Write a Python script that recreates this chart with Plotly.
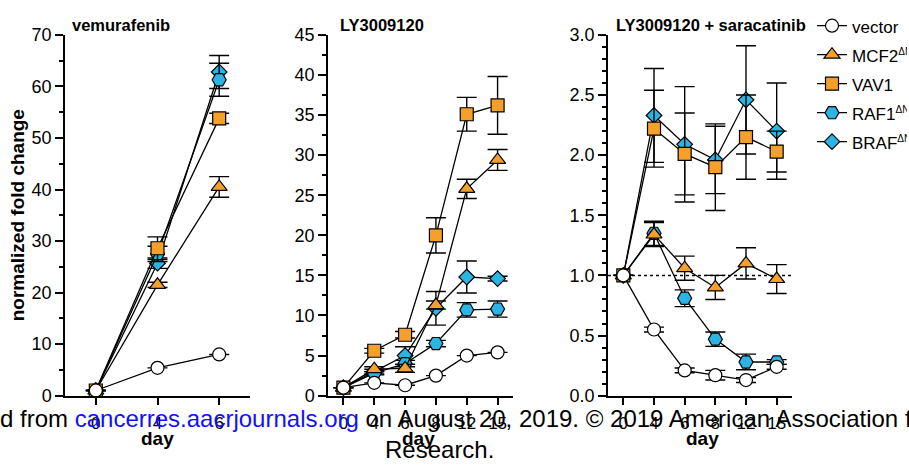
import plotly.graph_objects as go

# ---------------- data ----------------
days_a = ['0', '4', '6']
days_b = ['0', '4', '6', '8', '12', '15']

series_names = ['vector', 'MCF2<sup>ΔN</sup>', 'VAV1', 'RAF1<sup>ΔN</sup>', 'BRAF<sup>ΔN</sup>']

# panel 1: vemurafenib
vem_vector = [1.0, 5.4, 8.0]
vem_vector_err = [0, 0, 0]
vem_mcf2 = [1.0, 21.5, 40.5]
vem_mcf2_err = [0, 0.5, 2.0]
vem_vav1 = [1.0, 28.6, 53.8]
vem_vav1_err = [0, 2.2, 1.0]
vem_raf1 = [1.0, 27.5, 61.3]
vem_raf1_err = [0, 1.5, 3.2]
vem_braf = [1.0, 25.7, 62.8]
vem_braf_err = [0, 1.0, 3.2]

# panel 2: LY3009120
ly_vector = [1.0, 1.6, 1.3, 2.5, 5.0, 5.4]
ly_vector_err = [0, 0, 0, 0, 0, 0]
ly_mcf2 = [1.0, 3.3, 3.4, 11.3, 25.8, 29.4]
ly_mcf2_err = [0, 0.3, 0.5, 0.5, 1.2, 1.3]
ly_vav1 = [1.0, 5.6, 7.6, 20.0, 35.1, 36.2]
ly_vav1_err = [0, 0.3, 0.4, 2.2, 2.1, 3.6]
ly_raf1 = [1.0, 2.8, 4.0, 6.5, 10.7, 10.8]
ly_raf1_err = [0, 0.2, 0.4, 0.4, 0.9, 1.0]
ly_braf = [1.0, 3.0, 5.0, 10.9, 14.8, 14.6]
ly_braf_err = [0, 0.3, 1.1, 2.1, 2.0, 0.3]

# panel 3: LY3009120 + saracatinib
lys_vector = [1.0, 0.55, 0.21, 0.17, 0.13, 0.24]
lys_vector_err = [0, 0.02, 0.02, 0.04, 0.02, 0.02]
lys_mcf2 = [1.0, 1.34, 1.06, 0.90, 1.10, 0.97]
lys_mcf2_err = [0, 0.10, 0.10, 0.10, 0.13, 0.12]
lys_vav1 = [1.0, 2.22, 2.01, 1.90, 2.15, 2.03]
lys_vav1_err = [0, 0.32, 0.34, 0.36, 0.35, 0.17]
lys_raf1 = [1.0, 1.35, 0.81, 0.47, 0.28, 0.28]
lys_raf1_err = [0, 0.10, 0.07, 0.06, 0.065, 0.02]
lys_braf = [1.0, 2.33, 2.09, 1.96, 2.46, 2.20]
lys_braf_err = [0, 0.39, 0.48, 0.28, 0.45, 0.40]

panel_titles = ['vemurafenib', 'LY3009120', 'LY3009120 + saracatinib']
y_title = 'normalized fold change'
x_title = 'day'

# ---------------- styles ----------------
ORANGE = '#F5A02A'
CYAN = '#2BB5E5'
styles = {
    'vector': dict(symbol='circle', color='white', size=13),
    'mcf2': dict(symbol='triangle-up', color=ORANGE, size=14),
    'vav1': dict(symbol='square', color=ORANGE, size=13),
    'raf1': dict(symbol='hexagon2', color=CYAN, size=14),
    'braf': dict(symbol='diamond', color=CYAN, size=12),
}

panels = [
    (days_a, {'vector': (vem_vector, vem_vector_err), 'mcf2': (vem_mcf2, vem_mcf2_err),
              'vav1': (vem_vav1, vem_vav1_err), 'raf1': (vem_raf1, vem_raf1_err),
              'braf': (vem_braf, vem_braf_err)}),
    (days_b, {'vector': (ly_vector, ly_vector_err), 'mcf2': (ly_mcf2, ly_mcf2_err),
              'vav1': (ly_vav1, ly_vav1_err), 'raf1': (ly_raf1, ly_raf1_err),
              'braf': (ly_braf, ly_braf_err)}),
    (days_b, {'vector': (lys_vector, lys_vector_err), 'mcf2': (lys_mcf2, lys_mcf2_err),
              'vav1': (lys_vav1, lys_vav1_err), 'raf1': (lys_raf1, lys_raf1_err),
              'braf': (lys_braf, lys_braf_err)}),
]

keys = ['vector', 'mcf2', 'vav1', 'raf1', 'braf']
draw_order = ['braf', 'raf1', 'vav1', 'mcf2', 'vector']

W, H = 909, 465
fig = go.Figure()


def legend_label(name):
    # small superscripts like the reference, 17px main text
    name = name.replace('<sup>', '<sup><span style="font-size:10px">').replace('</sup>', '</span></sup>')
    return f'<span style="font-size:17px">{name}</span>'


for p, (days, data) in enumerate(panels):
    xa = 'x' if p == 0 else f'x{p+1}'
    ya = 'y' if p == 0 else f'y{p+1}'
    for k in draw_order:
        vals, errs = data[k]
        st = styles[k]
        fig.add_trace(go.Scatter(
            x=days, y=vals, xaxis=xa, yaxis=ya,
            mode='lines+markers',
            name=legend_label(series_names[keys.index(k)]),
            legendgroup='all', legendrank=keys.index(k),
            showlegend=(p == 2),
            line=dict(color='black', width=1.3),
            marker=dict(symbol=st['symbol'], color=st['color'], size=st['size'],
                        line=dict(color='black', width=1.2)),
            error_y=dict(type='data', array=errs, visible=True, color='black',
                         thickness=1.4, width=10),
            cliponaxis=False,
        ))

xdomains = [[65 / W, 250 / W], [328 / W, 513 / W], [608 / W, 792 / W]]
ydomain = [62 / H, 439 / H]
yranges = [[0, 70], [0, 45], [0, 3.0]]
ydticks = [10, 5, 0.5]
yminor = [5, 2.5, 0.1]
xranges = [[-0.5, 2.5], [-0.5, 5.5], [-0.5, 5.5]]
ytickformat = ['', '', '.1f']

font_main = 'Liberation Sans, Arial, sans-serif'
layout = dict(
    width=W, height=H, margin=dict(l=0, r=0, t=0, b=0),
    paper_bgcolor='white', plot_bgcolor='white',
    font=dict(family=font_main, color='black', size=18),
    showlegend=True,
    legend=dict(x=812 / W, y=1 + 4 / H, xanchor='left', yanchor='top',
                orientation='h', entrywidth=50, entrywidthmode='pixels',
                font=dict(size=20, family=font_main),
                bgcolor='rgba(0,0,0,0)', traceorder='grouped'),
)
for i in range(3):
    sx = '' if i == 0 else str(i + 1)
    layout[f'xaxis{sx}'] = dict(
        domain=xdomains[i], anchor=f'y{sx}', type='category', range=xranges[i],
        showline=True, linecolor='black', linewidth=1.5, mirror=False,
        ticks='outside', ticklen=8, tickwidth=1.5, tickcolor='black',
        tickfont=dict(size=17), ticklabelstandoff=3,
        showgrid=False, zeroline=False,
    )
    layout[f'yaxis{sx}'] = dict(
        domain=ydomain, anchor=f'x{sx}', range=yranges[i], dtick=ydticks[i], tick0=0,
        tickformat=ytickformat[i],
        showline=True, linecolor='black', linewidth=1.5,
        ticks='outside', ticklen=8, tickwidth=1.5, tickcolor='black',
        minor=dict(dtick=yminor[i], tick0=0, ticks='outside', ticklen=4,
                   tickwidth=1.5, tickcolor='black', showgrid=False),
        tickfont=dict(size=18), showgrid=False, zeroline=False,
    )
fig.update_layout(**layout)

# reference dotted line at 1.0 in panel 3
fig.add_shape(type='line', xref='x3 domain', yref='y3', x0=0, x1=1, y0=1.0, y1=1.0,
              line=dict(color='black', width=1.5, dash='dot'), layer='below')

ann = []
title_x = [121, 382, 711]
for i, t in enumerate(panel_titles):
    ann.append(dict(text=f'<b>{t}</b>', x=title_x[i] / W, y=1 - 16 / H, xref='paper',
                    yref='paper', showarrow=False, xanchor='center', yanchor='middle',
                    font=dict(size=16.5)))
day_x = [157, 418, 702]
for i in range(3):
    ann.append(dict(text=f'<b>{x_title}</b>', x=day_x[i] / W, y=1 - 448 / H,
                    xref='paper', yref='paper', showarrow=False, xanchor='center',
                    yanchor='middle', font=dict(size=19)))
ann.append(dict(text=f'<b>{y_title}</b>', x=17 / W, y=(ydomain[0] + ydomain[1]) / 2,
                xref='paper', yref='paper', showarrow=False, textangle=-90,
                xanchor='center', yanchor='middle', font=dict(size=19)))
# watermark
ann.append(dict(text='d from <span style="color:#1010ff">cancerres.aacrjournals.org</span> on August 20, 2019. © 2019 American Association f',
                x=-2 / W, y=1 - 427 / H, xref='paper', yref='paper', showarrow=False,
                xanchor='left', yanchor='middle', font=dict(size=24, family=font_main)))
ann.append(dict(text='Research.', x=439 / W, y=1 - 459 / H, xref='paper', yref='paper',
                showarrow=False, xanchor='center', yanchor='middle',
                font=dict(size=24, family=font_main)))
fig.update_layout(annotations=ann)

fig.write_html('out.html')
